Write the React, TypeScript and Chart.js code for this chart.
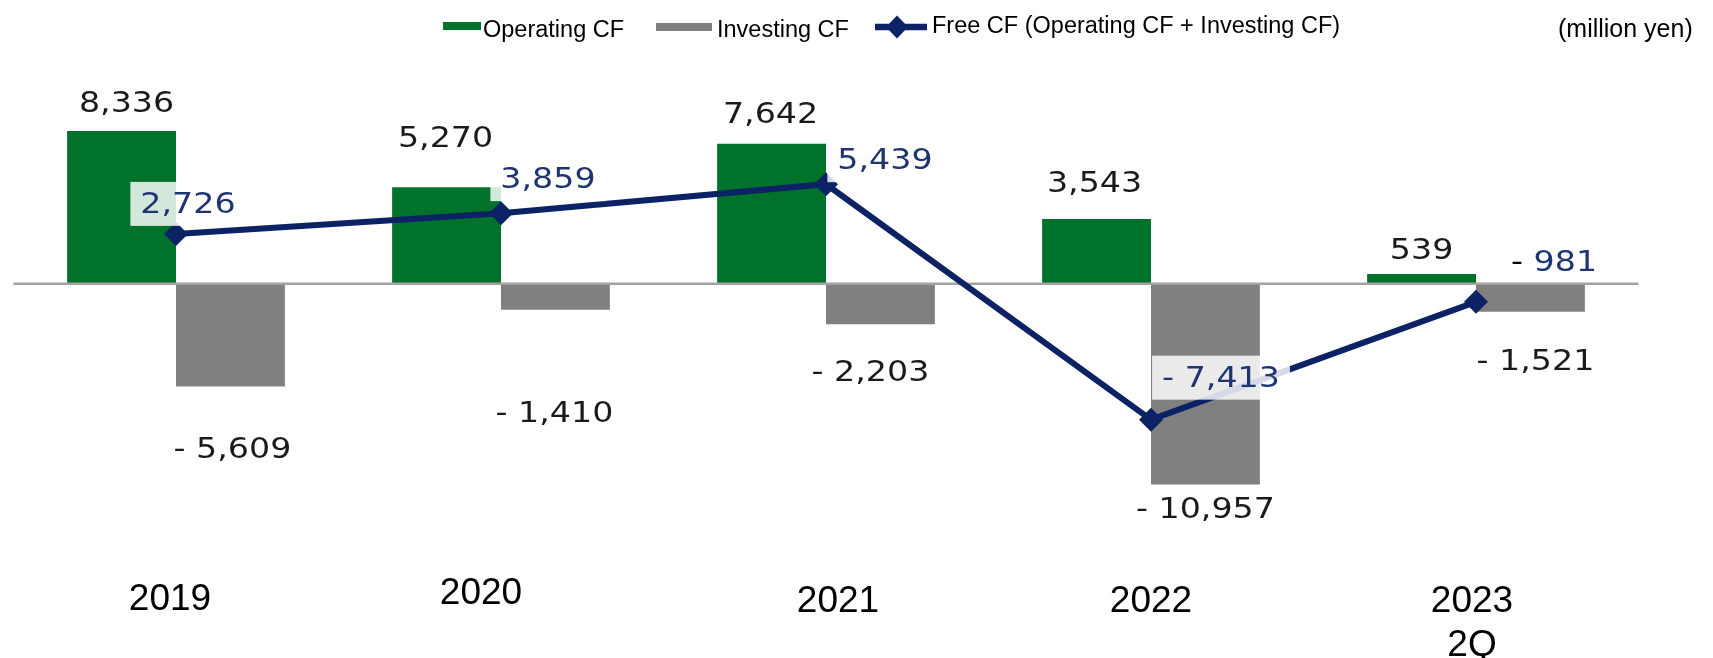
import React, { useEffect, useRef } from "react";
import { Chart, registerables } from "chart.js";

Chart.register(...registerables);

// ---------- data ----------
const categories = ["2019", "2020", "2021", "2022", "2023 2Q"];
const categoryLines = [["2019"], ["2020"], ["2021"], ["2022"], ["2023", "2Q"]];
const operatingCF = [8336, 5270, 7642, 3543, 539];
const investingCF = [-5609, -1410, -2203, -10957, -1521];
const freeCF = [2726, 3859, 5439, -7413, -981];
const legendLabels = ["Operating CF", "Investing CF", "Free CF (Operating CF + Investing CF)"];
const unitLabel = "(million yen)";
const yMin = -13000;
const yMax = 12000;

// ---------- label placement (offsets from the library-computed elements) ----------
const opLabelDx = [5, -1, -1, -2, 0];
const opLabelDy = [-29, -50, -31, -37, -25];
const invLabelDx = [2, -1, -10, 0, 5];
const invLabelDy = [61, 102, 47, 23, 48];
const freeLabelDx = [12, 47, 59, 70, 78];
const freeLabelDy = [-31, -35, -25, -43, -41];
const freeSignBlack = [false, false, false, false, true];
const freeLabelBox = [true, true, true, true, false];
const catLabelDx = [-6, -20, 12, 0, -4];
const catLabelDy = [75, 69, 77, 77, 77];

// ---------- styles ----------
const GREEN = "#00722b";
const GRAY = "#808080";
const NAVY = "#0b2265";
const FREE_TEXT = "#1e3572";
const TEXT = "#1a1a1a";
const VALUE_FONT = "27.5px 'DejaVu Sans', Verdana, sans-serif";
const VALUE_SX = 1.21;
const SANS = "'Liberation Sans', Arial, sans-serif";

const fmt = (v: number) => (v < 0 ? "- " : "") + Math.abs(v).toLocaleString("en-US");

function drawValue(
  ctx: CanvasRenderingContext2D,
  text: string,
  cx: number,
  cy: number,
  color: string,
  signColor: string | null,
  box: string | null
) {
  ctx.save();
  ctx.font = VALUE_FONT;
  const w = ctx.measureText(text).width * VALUE_SX;
  if (box) {
    ctx.fillStyle = box;
    ctx.fillRect(cx - w / 2 - 10, cy - 21, w + 20, 44);
  }
  ctx.translate(cx - w / 2, cy + 10);
  ctx.scale(VALUE_SX, 1);
  ctx.textAlign = "left";
  ctx.textBaseline = "alphabetic";
  if (text.startsWith("- ") && signColor) {
    ctx.fillStyle = signColor;
    ctx.fillText("-", 0, 0);
    const off = ctx.measureText("- ").width;
    ctx.fillStyle = color;
    ctx.fillText(text.slice(2), off, 0);
  } else {
    ctx.fillStyle = color;
    ctx.fillText(text, 0, 0);
  }
  ctx.restore();
}

const overlayPlugin = {
  id: "overlay",
  beforeDatasetDraw(chart: any, args: any) {
    if (args.meta.type !== "line") return;
    const { ctx, chartArea, scales } = chart;
    const y0 = scales.y.getPixelForValue(0);
    ctx.save();
    ctx.strokeStyle = "#a3a3a3";
    ctx.lineWidth = 2.5;
    ctx.beginPath();
    ctx.moveTo(chartArea.left, y0);
    ctx.lineTo(chartArea.right, y0);
    ctx.stroke();
    ctx.restore();
  },
  afterDatasetsDraw(chart: any) {
    const ctx: CanvasRenderingContext2D = chart.ctx;
    const lineMeta = chart.getDatasetMeta(0);
    const opMeta = chart.getDatasetMeta(1);
    const invMeta = chart.getDatasetMeta(2);

    operatingCF.forEach((v, i) => {
      const el = opMeta.data[i];
      drawValue(ctx, fmt(v), el.x + opLabelDx[i], el.y + opLabelDy[i], TEXT, null, null);
    });
    investingCF.forEach((v, i) => {
      const el = invMeta.data[i];
      drawValue(ctx, fmt(v), el.x + invLabelDx[i], el.y + invLabelDy[i], TEXT, TEXT, null);
    });
    freeCF.forEach((v, i) => {
      const el = lineMeta.data[i];
      drawValue(
        ctx,
        fmt(v),
        el.x + freeLabelDx[i],
        el.y + freeLabelDy[i],
        FREE_TEXT,
        freeSignBlack[i] ? "#000000" : FREE_TEXT,
        freeLabelBox[i] ? "rgba(255,255,255,0.83)" : null
      );
    });

    // category labels
    const xs = chart.scales.x;
    const bottom = chart.chartArea.bottom;
    ctx.save();
    ctx.font = "37px " + SANS;
    ctx.fillStyle = "#000000";
    ctx.textAlign = "center";
    ctx.textBaseline = "alphabetic";
    categoryLines.forEach((lines, i) => {
      const x = xs.getPixelForValue(i) + catLabelDx[i];
      lines.forEach((t, k) => {
        ctx.fillText(t, x, bottom + catLabelDy[i] + 13 + k * 44);
      });
    });
    ctx.restore();

    // legend
    ctx.save();
    ctx.font = "23.5px " + SANS;
    ctx.textAlign = "left";
    ctx.textBaseline = "alphabetic";
    ctx.fillStyle = GREEN;
    ctx.fillRect(443, 22, 38, 8);
    ctx.fillStyle = "#000000";
    ctx.fillText(legendLabels[0], 483, 37);
    ctx.fillStyle = GRAY;
    ctx.fillRect(656, 23, 56, 8);
    ctx.fillStyle = "#000000";
    ctx.fillText(legendLabels[1], 717, 37);
    ctx.strokeStyle = NAVY;
    ctx.lineWidth = 6.5;
    ctx.beginPath();
    ctx.moveTo(875, 27);
    ctx.lineTo(927, 27);
    ctx.stroke();
    ctx.fillStyle = NAVY;
    ctx.beginPath();
    ctx.moveTo(897, 15.5);
    ctx.lineTo(908, 27);
    ctx.lineTo(897, 38.5);
    ctx.lineTo(886, 27);
    ctx.closePath();
    ctx.fill();
    ctx.fillStyle = "#000000";
    ctx.fillText(legendLabels[2], 932, 33);
    ctx.font = "25px " + SANS;
    ctx.fillText(unitLabel, 1558, 37);
    ctx.restore();
  },
};

export default function App() {
  const canvasRef = useRef<HTMLCanvasElement | null>(null);

  useEffect(() => {
    const canvas = canvasRef.current;
    if (!canvas) return;
    const chart = new Chart(canvas, {
      type: "bar",
      data: {
        labels: categories,
        datasets: [
          {
            type: "line",
            label: legendLabels[2],
            data: freeCF,
            borderColor: NAVY,
            backgroundColor: NAVY,
            borderWidth: 6,
            pointStyle: "rectRot",
            pointRadius: 12,
            pointBackgroundColor: NAVY,
            pointBorderColor: NAVY,
            pointBorderWidth: 0,
            tension: 0,
            order: 0,
          } as any,
          {
            type: "bar",
            label: legendLabels[0],
            data: operatingCF,
            backgroundColor: GREEN,
            borderWidth: 0,
            barPercentage: 1,
            categoryPercentage: 0.67,
            order: 1,
          },
          {
            type: "bar",
            label: legendLabels[1],
            data: investingCF,
            backgroundColor: GRAY,
            borderWidth: 0,
            barPercentage: 1,
            categoryPercentage: 0.67,
            order: 1,
          },
        ],
      },
      options: {
        responsive: false,
        animation: false,
        events: [],
        layout: { padding: { left: 13.5, right: 74.5, top: 64, bottom: 136 } },
        plugins: { legend: { display: false }, tooltip: { enabled: false } },
        scales: {
          x: { display: false, offset: true },
          y: { display: false, min: yMin, max: yMax },
        },
      },
      plugins: [overlayPlugin],
    });
    return () => chart.destroy();
  }, []);

  return (
    <div style={{ position: "fixed", left: 0, top: 0, width: 1713, height: 658, background: "#ffffff" }}>
      <canvas ref={canvasRef} width={1713} height={658} style={{ width: 1713, height: 658, display: "block" }} />
    </div>
  );
}
